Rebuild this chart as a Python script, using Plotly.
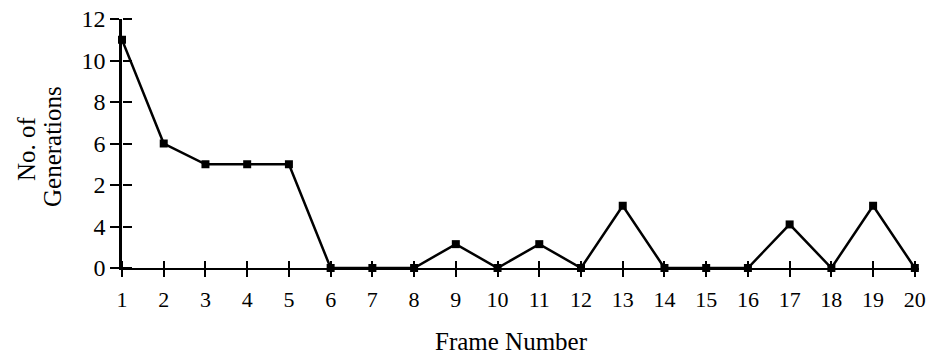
import plotly.graph_objects as go

frames = list(range(1, 21))
generations = [11, 6, 5, 5, 5, 0, 0, 0, 1.15, 0, 1.15, 0, 3, 0, 0, 0, 2.1, 0, 3, 0]
y_tick_vals = [0, 2, 4, 6, 8, 10, 12]
y_tick_text = ["0", "4", "2", "6", "8", "10", "12"]
x_tick_vals = frames
x_tick_text = [str(f) for f in frames]

FONT = "Liberation Serif"

fig = go.Figure()
fig.add_trace(go.Scatter(
    x=frames, y=generations, mode="lines+markers",
    line=dict(color="black", width=2.5),
    marker=dict(symbol="square", size=8, color="black"),
    cliponaxis=False, showlegend=False,
))
# invisible copy so the crossing-tick overlay axes are drawn
fig.add_trace(go.Scatter(
    x=frames, y=generations, mode="markers", xaxis="x2", yaxis="y2",
    marker=dict(opacity=0), hoverinfo="skip", showlegend=False,
))

axis_common = dict(showgrid=False, zeroline=False, color="black",
                   tickcolor="black", tickwidth=2, automargin=False)

fig.update_layout(
    width=930, height=356,
    margin=dict(l=122, r=11, t=19, b=88),
    paper_bgcolor="white", plot_bgcolor="white",
    font=dict(family=FONT, size=22, color="black"),
    xaxis=dict(range=[1, 20.1], tickvals=x_tick_vals, ticktext=x_tick_text,
               ticks="outside", ticklen=7, showline=True, linewidth=2,
               linecolor="black", tickfont=dict(family=FONT, size=22),
               ticklabelstandoff=4, **axis_common),
    yaxis=dict(range=[0, 12], tickvals=y_tick_vals, ticktext=y_tick_text,
               ticks="outside", ticklen=9, showline=True, linewidth=2.5,
               linecolor="black", tickfont=dict(family=FONT, size=24),
               **axis_common),
    xaxis2=dict(overlaying="x", matches="x", side="top", anchor="free",
                position=0, tickvals=x_tick_vals, ticks="outside",
                ticklen=7, showticklabels=False, showline=False,
                **axis_common),
    yaxis2=dict(overlaying="y", matches="y", side="right", anchor="free",
                position=0, tickvals=y_tick_vals, ticks="outside",
                ticklen=9, showticklabels=False, showline=False,
                **axis_common),
    annotations=[
        dict(text="No. of", xref="paper", yref="paper",
             x=(26 - 122) / 797, y=(268 - 149) / 249,
             xanchor="center", yanchor="middle",
             textangle=-90, showarrow=False,
             font=dict(family=FONT, size=25, color="black")),
        dict(text="Generations", xref="paper", yref="paper",
             x=(52 - 122) / 797, y=(268 - 147) / 249,
             xanchor="center", yanchor="middle",
             textangle=-90, showarrow=False,
             font=dict(family=FONT, size=25, color="black")),
        dict(text="Frame Number", xref="paper", yref="paper",
             x=(511 - 122) / 797, y=(268 - 341) / 249,
             xanchor="center", yanchor="middle",
             showarrow=False, font=dict(family=FONT, size=25, color="black")),
    ],
)

fig.write_html("out.html", config={"displayModeBar": False},
               post_script="document.body.style.margin='0';"
                           "document.body.style.overflow='hidden';")
